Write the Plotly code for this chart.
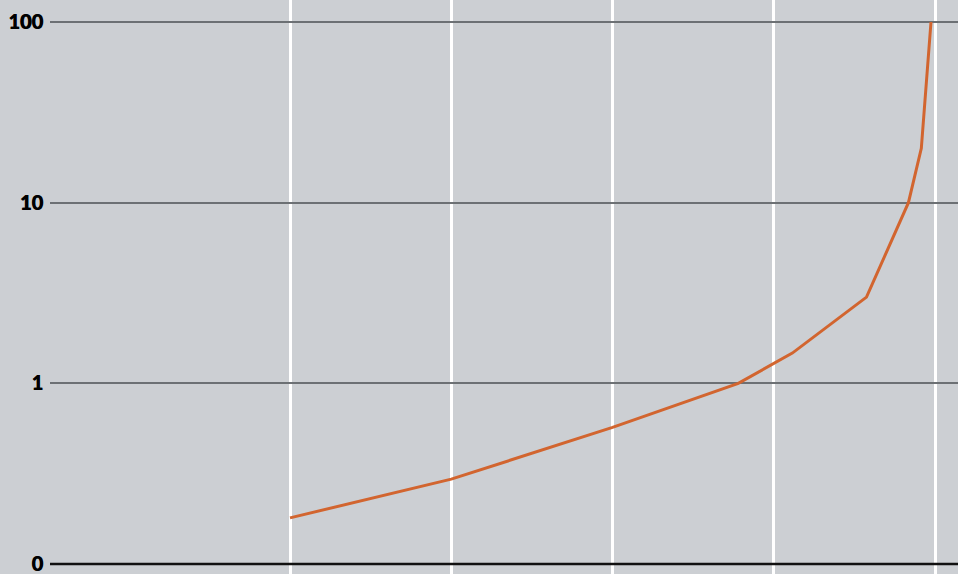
import plotly.graph_objects as go

# Percentile position and value at that percentile (log scale)
percentile = [20, 40, 60, 75.6, 82.3, 91.5, 96.7, 98.3, 99.5]
value = [0.18, 0.295, 0.57, 1.0, 1.47, 3.0, 10, 20, 100]

y_tickvals = [0.1, 1, 10, 100]
y_ticktext = ["0", "1", "10", "100"]
x_tickvals = [20, 40, 60, 80, 100]

fig = go.Figure()
fig.add_trace(go.Scatter(
    x=percentile, y=value, mode="lines",
    line=dict(color="#d2652f", width=3),
    hoverinfo="x+y", showlegend=False,
))

# Baseline along the lowest tick
fig.add_shape(type="line", xref="paper", x0=0, x1=1, yref="y",
              y0=y_tickvals[0], y1=y_tickvals[0],
              line=dict(color="#111111", width=2.5), layer="above")

fig.update_layout(
    width=958, height=574,
    margin=dict(l=50, r=0, t=0, b=0),
    paper_bgcolor="#cccfd3", plot_bgcolor="#cccfd3",
    font=dict(family="Lato", size=20, color="#111111"),
    xaxis=dict(
        range=[-9.77, 102.85], tickvals=x_tickvals, showticklabels=False,
        showgrid=True, gridcolor="#ffffff", gridwidth=3,
        zeroline=False, showline=False,
    ),
    yaxis=dict(
        type="log", range=[-1.0553, 2.1218],
        tickvals=y_tickvals, ticktext=y_ticktext,
        showgrid=True, gridcolor="#6c7074", gridwidth=1.5,
        zeroline=False, showline=False,
        tickfont=dict(family="Lato", size=20, color="#000000", weight=900,
                      shadow="0.6px 0 0 #000000"),
        ticklabelstandoff=6, ticklabeloverflow="allow",
    ),
)

fig.write_html("out.html")
